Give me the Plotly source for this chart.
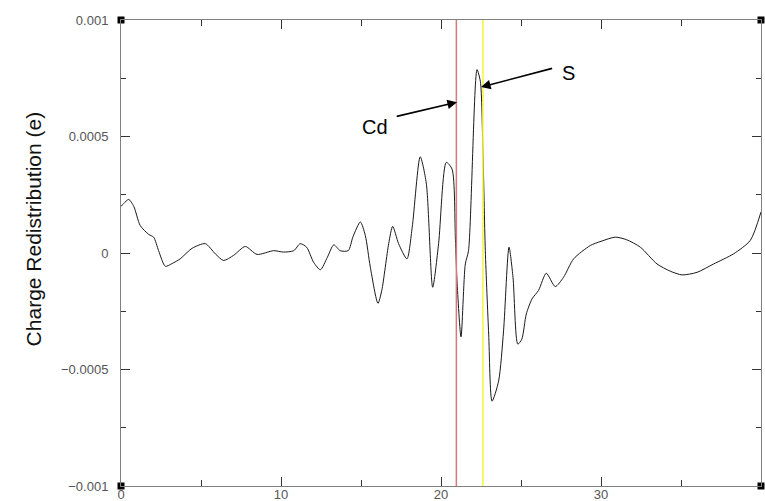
import plotly.graph_objects as go

# ---- data ----
x_vals = [0.0, 0.16, 0.48, 0.8, 1.2, 1.73, 2.04, 2.35, 2.77, 3.2, 3.7, 4.44, 5.27, 5.9, 6.41,
          7.04, 7.77, 8.5, 9.54, 10.16, 10.8, 11.2, 11.6, 12.04, 12.46, 12.9, 13.3, 13.7, 14.2,
          14.5, 14.96, 15.27, 15.58, 16.06, 16.3, 16.73, 16.98, 17.35, 17.87, 18.2, 18.7, 19.08,
          19.48, 19.85, 20.33, 20.69, 20.9, 21.0, 21.25, 21.52, 21.72, 22.25, 22.46, 22.62, 22.77,
          22.98, 23.19, 23.6, 23.91, 24.25, 24.5, 24.8, 25.05, 25.33, 25.69, 26.1, 26.58, 27.14,
          27.66, 28.29, 29.33, 30.0, 30.89, 31.6, 32.46, 33.5, 34.33, 35.06, 36.0, 37.04, 38.3,
          39.33, 40.0]
y_vals = [2.00e-4, 2.12e-4, 2.30e-4, 2.00e-4, 1.18e-4, 0.80e-4, 0.68e-4, 0.10e-4, -0.57e-4,
          -0.45e-4, -0.25e-4, 0.20e-4, 0.40e-4, -0.04e-4, -0.32e-4, -0.10e-4, 0.28e-4, -0.06e-4,
          0.10e-4, 0.04e-4, 0.10e-4, 0.40e-4, 0.25e-4, -0.40e-4, -0.72e-4, -0.18e-4, 0.35e-4,
          0.10e-4, 0.10e-4, 0.70e-4, 1.33e-4, 0.75e-4, -0.60e-4, -2.16e-4, -1.60e-4, 0.40e-4,
          1.14e-4, 0.40e-4, -0.25e-4, 1.10e-4, 4.13e-4, 3.00e-4, -1.47e-4, 0.40e-4, 3.89e-4,
          3.60e-4, 0.60e-4, -1.19e-4, -3.60e-4, -0.47e-4, 0.10e-4, 7.87e-4, 7.36e-4, 4.40e-4,
          0.10e-4, -3.48e-4, -6.36e-4, -5.50e-4, -3.34e-4, 0.25e-4, -1.04e-4, -3.91e-4, -3.70e-4,
          -2.62e-4, -1.97e-4, -1.60e-4, -0.87e-4, -1.44e-4, -1.04e-4, -0.25e-4, 0.32e-4, 0.50e-4,
          0.68e-4, 0.57e-4, 0.25e-4, -0.47e-4, -0.78e-4, -0.94e-4, -0.83e-4, -0.47e-4, -0.03e-4,
          0.54e-4, 1.76e-4]

x_range = [0, 40]
y_range = [-0.001, 0.001]
x_tickvals = [0, 10, 20, 30, 40]
x_ticktext = ["0", "10", "20", "30", "40"]
y_tickvals = [-0.001, -0.0005, 0, 0.0005, 0.001]
y_ticktext = ["\u22120.001", "\u22120.0005", "0", "0.0005", "0.001"]

atom_names = ["Cd", "S"]
atom_lines_x = [20.96, 22.62]
atom_line_colors = ["#d47a7a", "#f5f53a"]
# arrow head (x, y), arrow tail (x, y), label position (x, y)
arrow_head_x = [21.0, 22.5]
arrow_head_y = [0.000647, 0.000712]
arrow_tail_x = [17.14, 27.04]
arrow_tail_y = [0.000585, 0.000794]
label_x = [15.9, 27.98]
label_y = [0.000540, 0.000772]

y_title = "Charge Redistribution (e)"

fig = go.Figure()

fig.add_trace(go.Scatter(
    x=x_vals, y=y_vals, mode="lines",
    line=dict(color="#1a1a1a", width=1, shape="spline", smoothing=0.7),
    hoverinfo="skip", showlegend=False,
))

for xv, col in zip(atom_lines_x, atom_line_colors):
    fig.add_shape(type="line", x0=xv, x1=xv, y0=y_range[0], y1=y_range[1],
                  xref="x", yref="y", line=dict(color=col, width=1.5), layer="above")

# corner square markers
fig.add_trace(go.Scatter(
    x=[x_range[0], x_range[0], x_range[1], x_range[1]],
    y=[y_range[0], y_range[1], y_range[0], y_range[1]],
    mode="markers", marker=dict(symbol="square", size=7, color="black"),
    cliponaxis=False, hoverinfo="skip", showlegend=False,
))

for name, hx, hy, tx, ty, lx, ly in zip(atom_names, arrow_head_x, arrow_head_y,
                                        arrow_tail_x, arrow_tail_y, label_x, label_y):
    fig.add_annotation(x=hx, y=hy, ax=tx, ay=ty, xref="x", yref="y", axref="x", ayref="y",
                       text="", showarrow=True, arrowhead=2, arrowsize=1.2, arrowwidth=1.6,
                       arrowcolor="black", standoff=0, startstandoff=0)
    fig.add_annotation(x=lx, y=ly, xref="x", yref="y", text=name, showarrow=False,
                       font=dict(family="Liberation Sans, Arial", size=20, color="black"))

fig.add_annotation(x=-0.158, y=0.5515, xref="paper", yref="paper", text=y_title,
                   textangle=-90, showarrow=False,
                   font=dict(family="Liberation Sans, Arial", size=21, color="#111111"))

axis_common = dict(showgrid=False, zeroline=False, showline=True, linecolor="#808080",
                   linewidth=1, mirror="ticks", ticks="inside", tickcolor="#333333",
                   tickwidth=1, ticklen=9, automargin=False,
                   tickfont=dict(family="Liberation Sans, Arial", size=13, color="#555555"))

fig.update_xaxes(range=x_range, tickvals=x_tickvals, ticktext=x_ticktext,
                 ticklabelstandoff=-4,
                 minor=dict(dtick=5, ticks="inside", ticklen=6, tickcolor="#333333"),
                 **axis_common)
fig.update_yaxes(range=y_range, tickvals=y_tickvals, ticktext=y_ticktext,
                 ticklabelstandoff=9,
                 minor=dict(dtick=0.00025, tick0=0, ticks="inside", ticklen=5, tickcolor="#333333"),
                 **axis_common)

fig.update_layout(
    width=765, height=501,
    margin=dict(l=121, r=4, t=20, b=15),
    plot_bgcolor="white", paper_bgcolor="white",
)

fig.write_html("out.html")
